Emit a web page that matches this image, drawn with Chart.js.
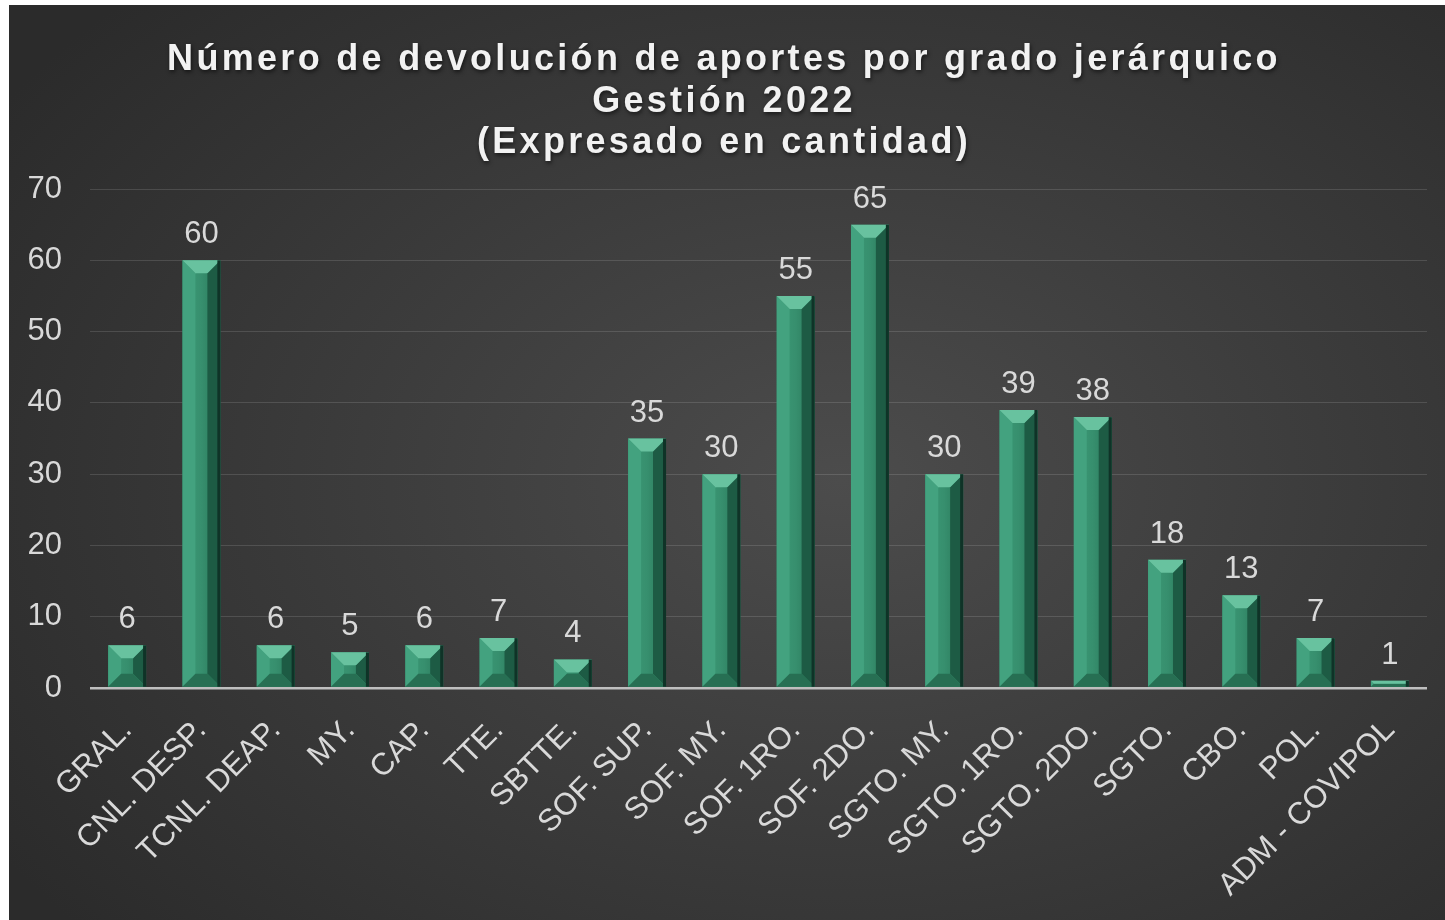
<!DOCTYPE html>
<html>
<head>
<meta charset="utf-8">
<script src="https://cdn.jsdelivr.net/npm/chart.js@4.4.1/dist/chart.umd.min.js"></script>
<style>
  html, body { margin: 0; padding: 0; background: #ffffff; }
  #marco {
    position: absolute; left: 9px; top: 5px; width: 1436px; height: 915px;
    background: radial-gradient(ellipse 70% 75% at 58% 52%, #4c4c4c 0%, #3d3d3d 45%, #2b2b2b 100%);
  }
</style>
</head>
<body>
<div id="marco"><canvas id="graficoGrados"></canvas></div>
<script>
const categorias = ["GRAL.", "CNL. DESP.", "TCNL. DEAP.", "MY.", "CAP.", "TTE.", "SBTTE.",
  "SOF. SUP.", "SOF. MY.", "SOF. 1RO.", "SOF. 2DO.", "SGTO. MY.", "SGTO. 1RO.",
  "SGTO. 2DO.", "SGTO.", "CBO.", "POL.", "ADM - COVIPOL"];
const cantidades = [6, 60, 6, 5, 6, 7, 4, 35, 30, 55, 65, 30, 39, 38, 18, 13, 7, 1];
const ticksY = [0, 10, 20, 30, 40, 50, 60, 70];
const titulo = [
  "Número de devolución de aportes por grado jerárquico",
  "Gestión 2022",
  "(Expresado en cantidad)",
];

const fuente = "'Liberation Sans', Arial, sans-serif";
const gris = "#d9d9d9";

// bisel de las barras
const biselBarras = {
  id: "biselBarras",
  afterDatasetsDraw(chart) {
    const ctx = chart.ctx;
    chart.getDatasetMeta(0).data.forEach((barra) => {
      const p = barra.getProps(["x", "y", "base", "width"], true);
      const L = p.x - p.width / 2, R = p.x + p.width / 2, T = p.y, B = p.base;
      const b = Math.min(13, p.width / 2 - 1, (B - T) / 2);
      ctx.save();
      const cara = ctx.createLinearGradient(L, 0, R, 0);
      cara.addColorStop(0, "#3c9b77");
      cara.addColorStop(0.5, "#378f6e");
      cara.addColorStop(1, "#287658");
      ctx.fillStyle = cara;
      ctx.fillRect(L + b, T + b, p.width - 2 * b, B - T - 2 * b);
      const poligono = (pts, color) => {
        ctx.beginPath();
        ctx.moveTo(pts[0][0], pts[0][1]);
        pts.slice(1).forEach((q) => ctx.lineTo(q[0], q[1]));
        ctx.closePath();
        ctx.fillStyle = color;
        ctx.fill();
      };
      poligono([[L, T], [L + b, T + b], [L + b, B - b], [L, B]], "#43a27f");
      poligono([[R, T], [R - b, T + b], [R - b, B - b], [R, B]], "#1d5b44");
      poligono([[L, B], [R, B], [R - b, B - b], [L + b, B - b]], "#276f53");
      poligono([[L, T], [R, T], [R - b, T + b], [L + b, T + b]], "#68c29f");
      ctx.fillStyle = "#0f3327";
      ctx.fillRect(R - 3, T, 3, B - T);
      ctx.restore();
    });
  },
};

// etiquetas de valor
const etiquetas = {
  id: "etiquetas",
  afterDatasetsDraw(chart) {
    const ctx = chart.ctx;
    ctx.save();
    ctx.font = "31px " + fuente;
    ctx.fillStyle = gris;
    ctx.textAlign = "center";
    ctx.textBaseline = "alphabetic";
    chart.getDatasetMeta(0).data.forEach((barra, i) => {
      ctx.fillText(cantidades[i], barra.x, barra.y - 17);
    });
    ctx.restore();
  },
};

// titulo con espaciado
const tituloEspaciado = {
  id: "tituloEspaciado",
  afterDraw(chart) {
    const ctx = chart.ctx;
    ctx.save();
    ctx.font = "bold 36px " + fuente;
    ctx.letterSpacing = "3.3px";
    ctx.fillStyle = "#f2f2f2";
    ctx.textAlign = "center";
    ctx.textBaseline = "middle";
    ctx.shadowColor = "rgba(0,0,0,0.6)";
    ctx.shadowBlur = 4;
    ctx.shadowOffsetX = 1;
    ctx.shadowOffsetY = 2;
    const yLineas = [55, 97, 138];
    titulo.forEach((linea, i) => ctx.fillText(linea, chart.width / 2 - 3, yLineas[i]));
    ctx.restore();
  },
};

const graficoGrados = new Chart(document.getElementById("graficoGrados"), {
  type: "bar",
  data: {
    labels: categorias,
    datasets: [
      {
        label: "Cantidad",
        data: cantidades,
        backgroundColor: "#358f6d",
        borderWidth: 0,
        barPercentage: 0.51,
        categoryPercentage: 1,
      },
    ],
  },
  options: {
    responsive: true,
    maintainAspectRatio: false,
    animation: false,
    layout: { padding: { top: 184, right: 18, left: 0, bottom: 0 } },
    plugins: {
      legend: { display: false },
      title: { display: false },
      tooltip: { enabled: false },
    },
    scales: {
      x: {
        grid: { display: false },
        border: { display: false },
        ticks: {
          color: gris,
          font: { family: fuente, size: 31 },
          minRotation: 45,
          maxRotation: 45,
          padding: 16,
          autoSkip: false,
        },
        afterFit: (scale) => { scale.height = 232; },
      },
      y: {
        min: 0,
        max: 70,
        afterBuildTicks: (scale) => { scale.ticks = ticksY.map((v) => ({ value: v })); },
        grid: {
          drawTicks: false,
          color: (c) => (c.tick && c.tick.value === 0 ? "#bfbfbf" : "rgba(255,255,255,0.13)"),
          lineWidth: (c) => (c.tick && c.tick.value === 0 ? 2.5 : 1),
        },
        border: { display: false },
        ticks: {
          color: gris,
          font: { family: fuente, size: 31 },
          padding: 28,
        },
        afterFit: (scale) => { scale.width = 81; },
      },
    },
  },
  plugins: [biselBarras, etiquetas, tituloEspaciado],
});
</script>
</body>
</html>
